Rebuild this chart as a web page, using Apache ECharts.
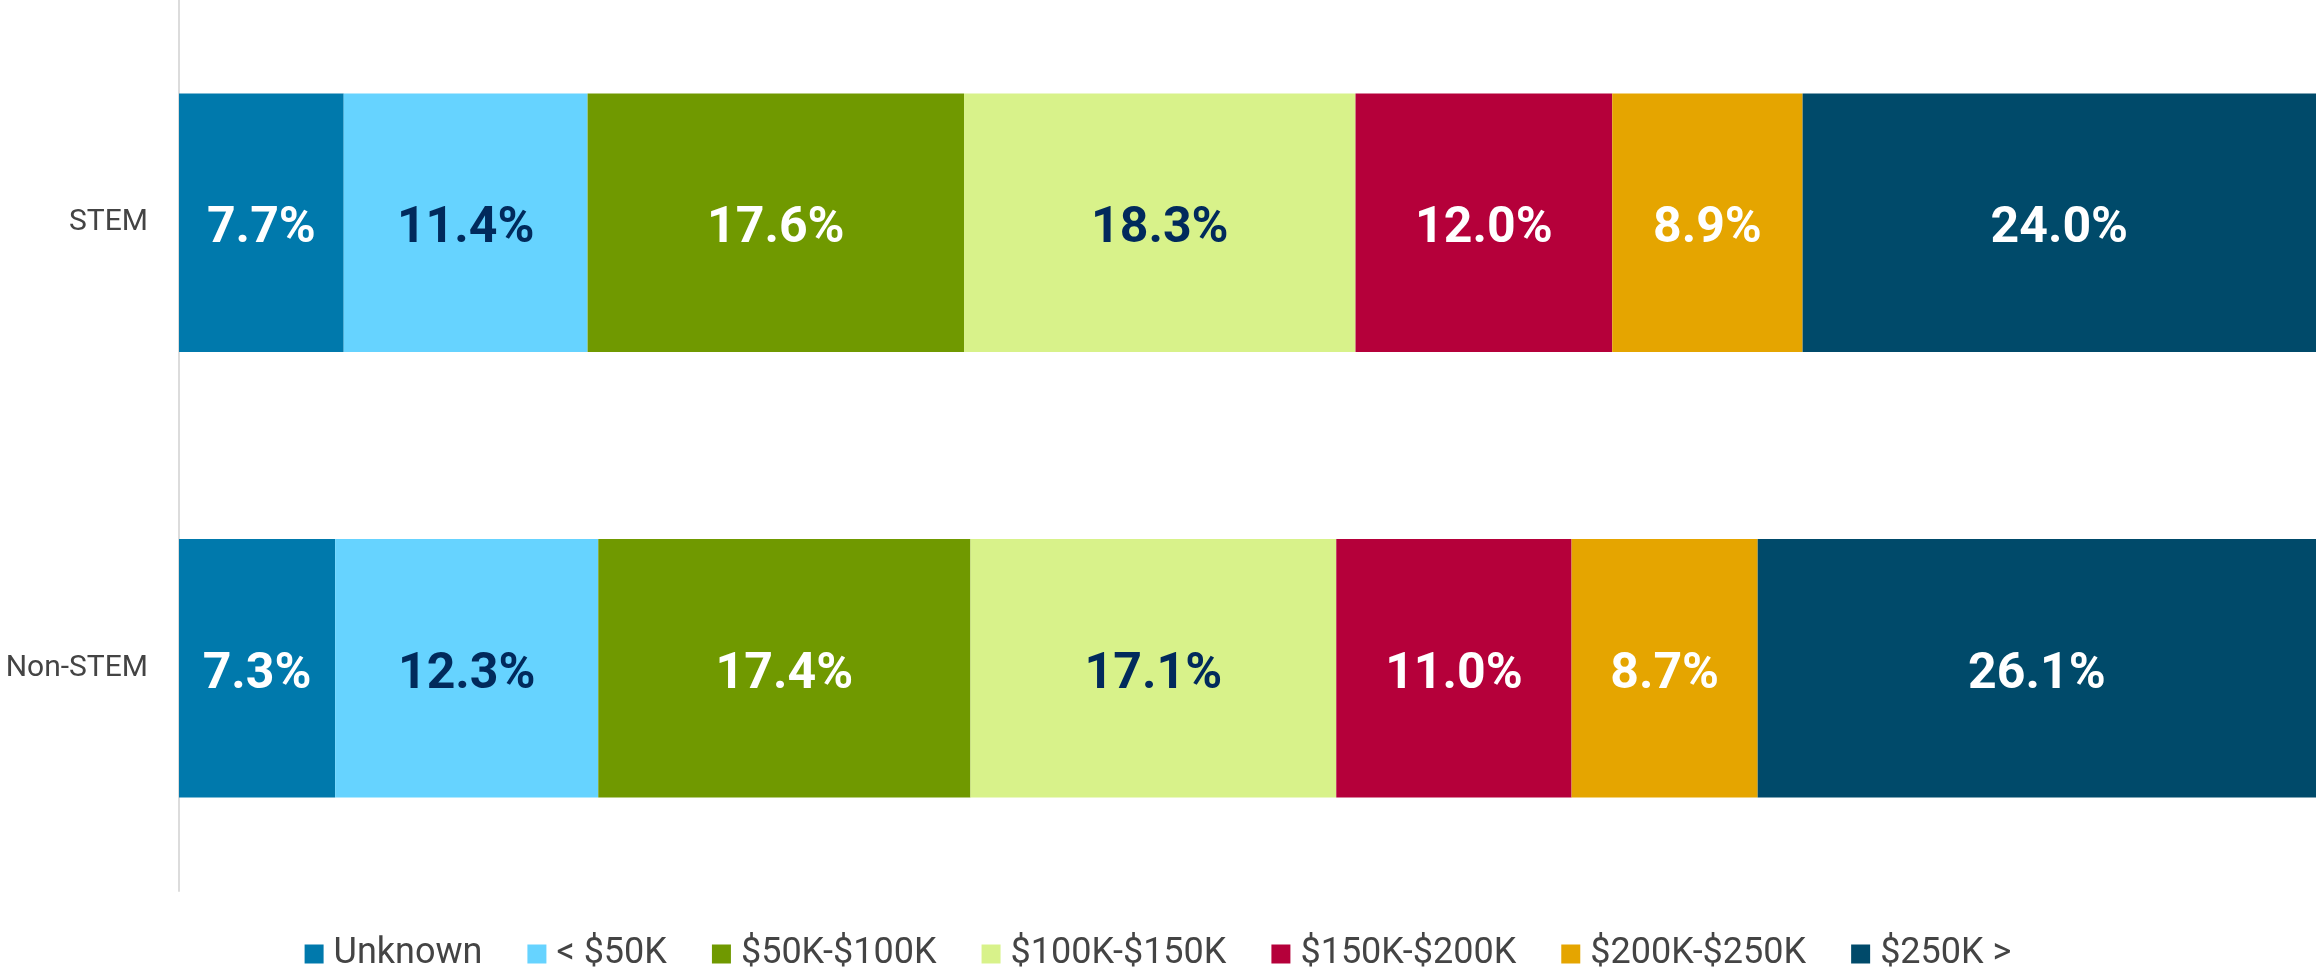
<!DOCTYPE html>
<html>
<head>
<meta charset="utf-8">
<title>Income by field</title>
<script src="https://cdn.jsdelivr.net/npm/echarts@6/dist/echarts.min.js"></script>
<style>
  html, body { margin: 0; padding: 0; background: #fff; }
  #chart { width: 2316px; height: 972px; }
</style>
</head>
<body>
<div id="chart"></div>
<script>
  // categories, top to bottom
  var groups = ['STEM', 'Non-STEM']

  // income brackets (legend order)
  var brackets = ['Unknown', '< $50K', '$50K-$100K', '$100K-$150K', '$150K-$200K', '$200K-$250K', '$250K >']

  // share (%) per bracket, [STEM, Non-STEM]
  var unknown = [7.7, 7.3]
  var under50 = [11.4, 12.3]
  var k50to100 = [17.6, 17.4]
  var k100to150 = [18.3, 17.1]
  var k150to200 = [12.0, 11.0]
  var k200to250 = [8.9, 8.7]
  var over250 = [24.0, 26.1]

  var values = [unknown, under50, k50to100, k100to150, k150to200, k200to250, over250]
  var colors = ['#0079ac', '#66d3ff', '#709900', '#d8f28a', '#b5003a', '#e5a500', '#004a6a']
  var labelColors = ['#fff', '#012a5c', '#fff', '#012a5c', '#fff', '#fff', '#fff']

  var chart = echarts.init(document.getElementById('chart'))

  var series = brackets.map(function (name, i) {
    return {
      name: name,
      type: 'bar',
      stack: 'total',
      barCategoryGap: '42%',
      data: values[i],
      itemStyle: { color: colors[i] },
      label: {
        show: true,
        position: 'inside',
        offset: [0, 7],
        formatter: function (p) { return p.value.toFixed(1) + '%' },
        color: labelColors[i],
        fontFamily: 'Roboto, sans-serif',
        fontWeight: 'bold',
        fontSize: 50
      },
      emphasis: { disabled: true },
      animation: false
    }
  })

  chart.setOption({
    animation: false,
    grid: {
      left: 179,
      right: 0,
      top: 0,
      height: 891
    },
    legend: {
      data: brackets,
      left: 'center',
      top: 931,
      itemWidth: 19,
      itemHeight: 19,
      itemGap: 45,
      icon: 'rect',
      textStyle: {
        fontFamily: 'Roboto, sans-serif',
        fontSize: 36,
        color: '#444',
        padding: [0, 0, 0, 5]
      }
    },
    xAxis: {
      type: 'value',
      min: 0,
      max: 'dataMax',
      show: false
    },
    yAxis: {
      type: 'category',
      data: groups,
      inverse: true,
      axisLine: { show: true, lineStyle: { color: '#dcdcdc', width: 2 } },
      axisTick: { show: false },
      axisLabel: {
        margin: 31,
        padding: [22, 0, 0, 0],
        fontFamily: 'Roboto, sans-serif',
        fontSize: 30,
        color: '#444'
      }
    },
    series: series
  })
</script>
</body>
</html>
